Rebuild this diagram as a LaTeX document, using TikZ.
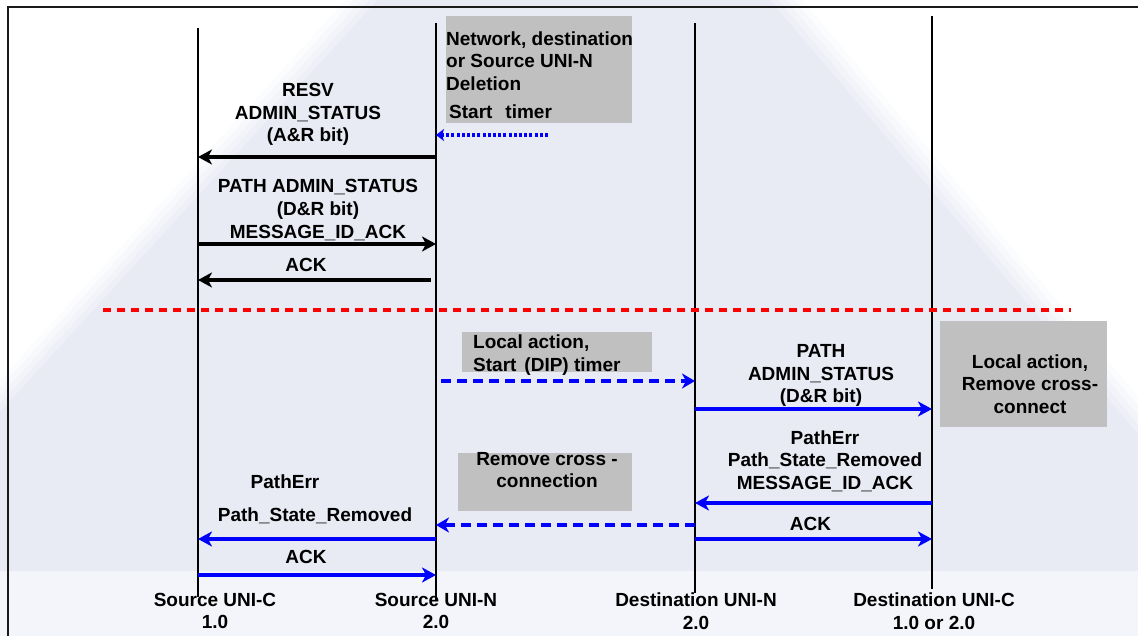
\documentclass[tikz,border=0pt]{standalone}
\usepackage{fontspec}
\setmainfont{Liberation Sans}
\usetikzlibrary{arrows.meta}
\definecolor{lav}{HTML}{E8EAF4}
\definecolor{lavlow}{HTML}{F4F5FA}
\definecolor{boxgrey}{HTML}{C0C0C0}
\definecolor{bord}{HTML}{1A1A1A}
\begin{document}
\begin{tikzpicture}[x=1pt,y=-1pt,
  txt/.style={inner sep=0pt, text depth=0pt, align=center, font=\fontsize{19}{22.7}\selectfont\bfseries},
  greybox/.style={fill=boxgrey, draw=none, inner sep=0pt, anchor=north west},
  lifeline/.style={line width=1.5pt, black},
  headbig/.style={-{Stealth[length=14pt,width=15pt,inset=4pt]}},
  msgk/.style={headbig, line width=3.1pt, black},
  msgb/.style={headbig, line width=3.3pt, blue},
  msgbd/.style={-{Stealth[length=13pt,width=15pt,inset=4pt]}, line width=3.4pt, blue, dash pattern=on 10pt off 6pt},
  msgbdot/.style={-{Stealth[length=8pt,width=12pt,inset=2pt]}, line width=3.2pt, blue, dash pattern=on 3pt off 2.2pt},
  sep/.style={line width=3.2pt, red, dash pattern=on 8pt off 6pt}
]
\useasboundingbox (0,0) rectangle (1138,636);
% background
\fill[white] (0,0) rectangle (1138,636);
\foreach \d/\p in {32/15,24/35,16/55,8/75,0/100}{
  \fill[lav!\p!white] ({378-\d},0) -- ({770+\d},0) -- (1138,{(368-\d)*1.1793}) -- (1138,636) -- (0,636) -- (0,{412-\d}) -- cycle;
}
\fill[lavlow] (0,571) rectangle (1138,636);
% border
\draw[bord, line width=2.2pt] (8,636) -- (8,7) -- (1138,7);

% grey boxes
\node[greybox, minimum width=186pt, minimum height=107pt] (nbox) at (446,16) {};
\node[greybox, minimum width=190pt, minimum height=40pt] (lbox) at (462,332) {};
\node[greybox, minimum width=167pt, minimum height=106pt] (rbox) at (940,321) {};
\node[greybox, minimum width=174pt, minimum height=58pt] (xbox) at (458,453) {};

% lifelines
\coordinate (scT) at (198,28);  \coordinate (scB) at (198,597);
\coordinate (snT) at (436,23);  \coordinate (snB) at (436,600);
\coordinate (dnT) at (695,23);  \coordinate (dnB) at (695,593);
\coordinate (dcT) at (932,16);  \coordinate (dcB) at (932,589);
\draw[lifeline] (scT) -- (scB);
\draw[lifeline] (snT) -- (snB);
\draw[lifeline] (dnT) -- (dnB);
\draw[lifeline] (dcT) -- (dcB);

% rows
\coordinate (r0) at (0,135);
\coordinate (r1) at (0,157);
\coordinate (r2) at (0,244);
\coordinate (r3) at (0,280);
\coordinate (r4) at (0,381);
\coordinate (r5) at (0,409);
\coordinate (r6) at (0,503);
\coordinate (r7) at (0,525);
\coordinate (r8) at (0,539);
\coordinate (r9) at (0,575);

% box texts
\node[txt, anchor=west, align=left] (ntxt) at (446,61) {Network, destination\\or Source UNI-N\\Deletion};
\node[txt, anchor=west] (ttxt) at (449,112) {Start\hspace{13pt}timer};
\node[txt, anchor=west, align=left] (ltxt) at (473,353) {Local action,\\Start\hspace{8pt}(DIP) timer};
\node[txt] (rtxt) at (1030,384) {Local action,\\Remove cross-\\connect};
\node[txt] (xtxt) at (547,470) {Remove cross -\\connection};

% message labels
\node[txt] (resv) at (308,112.5) {RESV\\ADMIN\_STATUS\\(A\&R bit)};
\node[txt] (padm) at (318,209) {PATH ADMIN\_STATUS\\(D\&R bit)\\MESSAGE\_ID\_ACK};
\node[txt] (ack1) at (306,265) {ACK};
\node[txt] (padm2) at (821,373.5) {PATH\\ADMIN\_STATUS\\(D\&R bit)};
\node[txt] (perr2) at (825,460) {PathErr\\Path\_State\_Removed\\MESSAGE\_ID\_ACK};
\node[txt] (ack2) at (810.5,524) {ACK};
\node[txt] (perr1) at (285,482) {PathErr};
\node[txt] (psr1) at (315,515) {Path\_State\_Removed};
\node[txt] (ack3) at (306,557) {ACK};

% bottom labels
\node[txt] (lsc) at (215,611) {Source UNI-C\\1.0};
\node[txt] (lsn) at (436,611) {Source UNI-N\\2.0};
\node[txt] (ldn) at (696,611) {Destination UNI-N\\2.0};
\node[txt] (ldc) at (934,611) {Destination UNI-C\\1.0 or 2.0};

% separator
\coordinate (sepL) at (103,310);
\coordinate (sepR) at (1071,310);
\draw[sep] (sepL) -- (sepR);

% messages
\coordinate (dotS) at (548,135);
\draw[msgbdot] (dotS) -- (snT |- r0);
\draw[msgk] (snT |- r1) -- (scT |- r1);
\draw[msgk] (scT |- r2) -- (snT |- r2);
\coordinate (ackS) at (431,280);
\draw[msgk] (ackS) -- (scT |- r3);
\coordinate (dashS) at (441,381);
\draw[msgbd] (dashS) -- (dnT |- r4);
\draw[msgb] (dnT |- r5) -- (dcT |- r5);
\draw[msgb] (dcT |- r6) -- (dnT |- r6);
\draw[msgbd] (dnT |- r7) -- (snT |- r7);
\draw[msgb] (dnT |- r8) -- (dcT |- r8);
\draw[msgb] (snT |- r8) -- (scT |- r8);
\draw[msgb] (scT |- r9) -- (snT |- r9);
\end{tikzpicture}
\end{document}
